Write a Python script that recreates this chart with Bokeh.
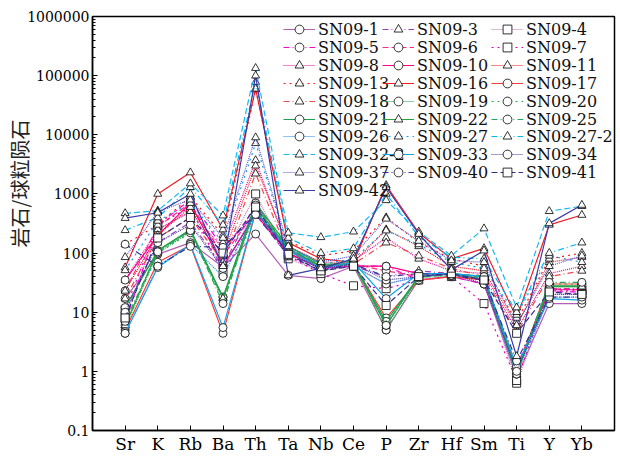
import math
from bokeh.plotting import figure
from bokeh.models import FixedTicker, Legend, LegendItem, CustomJSTickFormatter
from bokeh.embed import file_html
from bokeh.resources import INLINE

# ---------------- data ----------------
elements = ["Sr", "K", "Rb", "Ba", "Th", "Ta", "Nb", "Ce", "P", "Zr", "Hf", "Sm", "Ti", "Y", "Yb"]
y_ticks = [0.1, 1, 10, 100, 1000, 10000, 100000, 1000000]
y_title = "岩石/球粒陨石"

SN09_1 = [17, 95, 150, 58, 210, 42, 37, 60, 5, 35, 40, 30, 0.8, 14, 14]
SN09_3 = [10.7, 150, 330, 60, 700, 95, 55, 60, 40, 50, 45, 35, 1.0, 25, 25]
SN09_4 = [8.2, 250, 500, 80, 1000, 80, 50, 60, 30, 40, 45, 35, 0.63, 20, 20]
SN09_5 = [6.7, 300, 800, 120, 500, 110, 55, 60, 60, 35, 40, 30, 1.1, 22, 22]
SN09_6 = [23, 280, 700, 90, 500, 100, 55, 65, 50, 40, 45, 35, 1.2, 25, 24]
SN09_7 = [11, 300, 600, 45, 450, 90, 45, 28, 25, 35, 40, 14, 0.7, 23, 23]
SN09_8 = [35, 250, 500, 120, 3700, 110, 60, 75, 180, 80, 50, 45, 5, 45, 60]
SN09_10 = [35, 200, 700, 60, 450, 100, 55, 60, 60, 45, 45, 35, 1.0, 24, 24]
SN09_11 = [23, 200, 600, 90, 3000, 130, 70, 70, 250, 130, 60, 50, 6, 70, 85]
SN09_13 = [140, 300, 900, 200, 58000, 160, 90, 110, 400, 150, 80, 60, 7, 80, 100]
SN09_16 = [57, 1000, 2300, 250, 60000, 150, 80, 70, 1400, 220, 80, 120, 8, 300, 440]
SN09_17 = [5, 70, 135, 4.4, 500, 110, 60, 65, 8, 35, 40, 35, 1.0, 30, 30]
SN09_18 = [17, 180, 400, 70, 2200, 100, 60, 65, 150, 90, 55, 40, 4.5, 40, 50]
SN09_19 = [5.5, 100, 230, 18, 550, 115, 60, 70, 5, 38, 42, 38, 0.9, 27, 27]
SN09_20 = [6, 100, 220, 16, 520, 120, 62, 70, 6, 40, 42, 38, 1.0, 30, 30]
SN09_21 = [12, 110, 250, 18, 700, 130, 65, 65, 7, 40, 45, 40, 1.0, 28, 28]
SN09_22 = [6, 110, 240, 17, 600, 120, 60, 65, 6, 40, 45, 40, 0.9, 27, 27]
SN09_25 = [7, 105, 240, 14, 650, 125, 60, 75, 6, 42, 44, 40, 0.9, 32, 32]
SN09_26 = [4.4, 60, 140, 40, 500, 120, 55, 60, 30, 40, 45, 35, 0.9, 18, 18]
SN09_27 = [51, 350, 700, 150, 7200, 120, 65, 80, 240, 140, 70, 55, 9, 90, 70]
SN09_27_2 = [243, 400, 1300, 300, 78000, 180, 100, 120, 1000, 190, 85, 80, 10, 100, 150]
SN09_32_2 = [470, 520, 1500, 430, 134000, 220, 185, 230, 780, 230, 90, 260, 12, 510, 620]
SN09_33 = [4.4, 57, 140, 5.5, 500, 110, 55, 70, 17, 45, 45, 40, 1.2, 17, 16]
SN09_34 = [10, 150, 300, 55, 500, 100, 55, 65, 35, 40, 45, 30, 1.0, 20, 20]
SN09_37 = [85, 500, 800, 180, 9000, 130, 70, 90, 380, 160, 75, 70, 6, 60, 90]
SN09_40 = [141, 60, 130, 125, 450, 90, 50, 65, 40, 45, 42, 35, 1.5, 18, 18]
SN09_41 = [8, 180, 400, 100, 600, 95, 50, 60, 13, 40, 45, 35, 4.4, 22, 20]
SN09_42 = [390, 480, 1000, 60, 100000, 42, 55, 80, 1300, 210, 52, 110, 1.8, 318, 650]

names = ["SN09-1", "SN09-3", "SN09-4", "SN09-5", "SN09-6", "SN09-7", "SN09-8", "SN09-10",
         "SN09-11", "SN09-13", "SN09-16", "SN09-17", "SN09-18", "SN09-19", "SN09-20",
         "SN09-21", "SN09-22", "SN09-25", "SN09-26", "SN09-27", "SN09-27-2", "SN09-32-2",
         "SN09-33", "SN09-34", "SN09-37", "SN09-40", "SN09-41", "SN09-42"]
series = [SN09_1, SN09_3, SN09_4, SN09_5, SN09_6, SN09_7, SN09_8, SN09_10, SN09_11, SN09_13,
          SN09_16, SN09_17, SN09_18, SN09_19, SN09_20, SN09_21, SN09_22, SN09_25, SN09_26,
          SN09_27, SN09_27_2, SN09_32_2, SN09_33, SN09_34, SN09_37, SN09_40, SN09_41, SN09_42]

# legend grid (row-major, 3 columns)
legend_rows = [
    ["SN09-1", "SN09-3", "SN09-4"],
    ["SN09-5", "SN09-6", "SN09-7"],
    ["SN09-8", "SN09-10", "SN09-11"],
    ["SN09-13", "SN09-16", "SN09-17"],
    ["SN09-18", "SN09-19", "SN09-20"],
    ["SN09-21", "SN09-22", "SN09-25"],
    ["SN09-26", "SN09-27", "SN09-27-2"],
    ["SN09-32-2", "SN09-33", "SN09-34"],
    ["SN09-37", "SN09-40", "SN09-41"],
    ["SN09-42"],
]

# ---------------- styles ----------------
SOLID, DASH, DOT, DASHDOT, SPARSE = "solid", "6 3", "1 1", "6 3 1 3", "2 4"
styles = {
    "SN09-1": ("#b45fb6", SOLID, "circle"),
    "SN09-3": ("#a03cc0", DASHDOT, "triangle"),
    "SN09-4": ("#c070b4", DOT, "square"),
    "SN09-5": ("#ff00d0", DASHDOT, "circle"),
    "SN09-6": ("#ff2a8a", DASH, "circle"),
    "SN09-7": ("#e000c0", SPARSE, "square"),
    "SN09-8": ("#e0109a", DOT, "triangle"),
    "SN09-10": ("#ff0088", SOLID, "circle"),
    "SN09-11": ("#e8141c", DOT, "triangle"),
    "SN09-13": ("#ff1a1a", SPARSE, "triangle"),
    "SN09-16": ("#ee1c25", SOLID, "triangle"),
    "SN09-17": ("#ff3b3b", SOLID, "circle"),
    "SN09-18": ("#f04848", DASHDOT, "triangle"),
    "SN09-19": ("#1aa048", DOT, "circle"),
    "SN09-20": ("#20b050", SPARSE, "circle"),
    "SN09-21": ("#1f9e50", SOLID, "circle"),
    "SN09-22": ("#2aa040", SOLID, "triangle"),
    "SN09-25": ("#20a860", DASHDOT, "circle"),
    "SN09-26": ("#1e88e5", DOT, "circle"),
    "SN09-27": ("#1aa0e8", SPARSE, "triangle"),
    "SN09-27-2": ("#00b4f0", DASHDOT, "triangle"),
    "SN09-32-2": ("#1ab8f0", DASH, "triangle"),
    "SN09-33": ("#12a4e6", SOLID, "circle"),
    "SN09-34": ("#3a3aa0", DOT, "circle"),
    "SN09-37": ("#5a5acd", DOT, "triangle"),
    "SN09-40": ("#32329a", DASHDOT, "circle"),
    "SN09-41": ("#303090", DASH, "square"),
    "SN09-42": ("#3c3ca8", SOLID, "triangle"),
}
SERIF = "DejaVu Serif"

x_idx = list(range(len(elements)))

p = figure(width=620, height=457, y_axis_type="log", x_range=(-1, 15), y_range=(0.1, 1e6),
           output_backend="svg", toolbar_location=None,
           min_border_left=92, min_border_right=6, min_border_top=16, min_border_bottom=27)
p.xgrid.visible = False
p.ygrid.visible = False
p.outline_line_color = "black"
p.outline_line_width = 1.5
p.outline_line_alpha = 1.0
p.background_fill_color = "white"

items = {}
for name, vals in zip(names, series):
    color, dash, marker = styles[name]
    r1 = p.line(x_idx, vals, line_color=color, line_width=1.2, line_dash=dash)
    r2 = p.scatter(x_idx, vals, marker=marker, size=8, line_color="black", line_width=0.8,
                   fill_color="white")
    items[name] = LegendItem(label=name, renderers=[r1, r2])

# axes
p.xaxis.ticker = FixedTicker(ticks=x_idx)
p.xaxis.major_label_overrides = {i: e for i, e in enumerate(elements)}
minor = [k * 10.0 ** e for e in range(-1, 6) for k in range(2, 10)]
p.yaxis.ticker = FixedTicker(ticks=y_ticks, minor_ticks=minor)
p.yaxis.formatter = CustomJSTickFormatter(code="return String(tick);")
for ax in (p.xaxis[0], p.yaxis[0]):
    ax.major_label_text_font = SERIF
    ax.major_label_text_color = "black"
    ax.major_tick_in = 5
    ax.major_tick_out = 0
    ax.minor_tick_in = 3
    ax.minor_tick_out = 0
    ax.axis_line_width = 1.5
    ax.axis_line_color = "black"
    ax.major_tick_line_color = "black"
    ax.minor_tick_line_color = "black"
p.xaxis.minor_tick_line_color = None
p.xaxis.major_label_text_font_size = "17px"
p.yaxis.major_label_text_font_size = "14px"
p.xaxis.major_label_standoff = 3
p.yaxis.major_label_standoff = 3

# y axis label; leading ideographic spaces lift the visible text above centre
p.yaxis.axis_label = "\u3000\u3000\u3000\u3000" + y_title
p.yaxis.axis_label_text_font = "Noto Sans CJK SC"
p.yaxis.axis_label_text_font_size = "20px"
p.yaxis.axis_label_text_font_style = "normal"
p.yaxis.axis_label_text_color = "#222222"
p.yaxis.axis_label_text_line_height = 0.6
p.yaxis.axis_label_standoff = -10

# legend: one small legend per cell so rows can be packed tightly
col_x = [191, 290, 399]
row_pitch = 17.8
cell_h = 22
for r, row in enumerate(legend_rows):
    for c, name in enumerate(row):
        yc = 29.5 + r * row_pitch          # page y of row centre
        loc_y = int(round(430 - yc - cell_h / 2))
        leg = Legend(items=[items[name]], location=(col_x[c], loc_y),
                     label_text_font=SERIF, label_text_font_size="16px",
                     label_text_color="#111111",
                     glyph_width=32, glyph_height=cell_h, label_height=cell_h, label_standoff=3,
                     spacing=0, padding=0, margin=0,
                     border_line_color=None, background_fill_alpha=0)
        p.add_layout(leg)

open("out.html", "w").write(file_html(p, INLINE))
